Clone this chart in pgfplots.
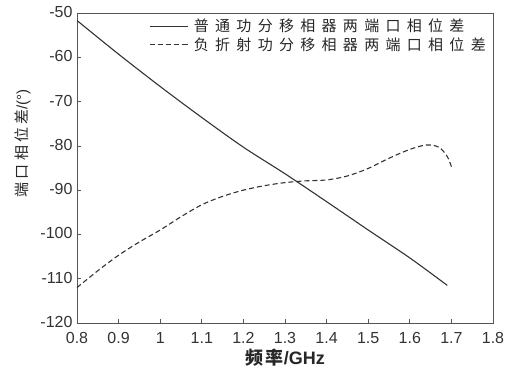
\documentclass[border=0pt]{standalone}
\usepackage{fontspec}
\setmainfont{Liberation Sans}
\newfontfamily\cjkleg[LetterSpace=42]{Noto Sans CJK SC}
\newfontfamily\cjkls[LetterSpace=22]{Noto Sans CJK SC}
\newfontfamily\cjkx[LetterSpace=15]{Noto Sans CJK SC}
\usepackage{pgfplots}
\pgfplotsset{compat=1.18}
\definecolor{ln}{HTML}{333333}
\definecolor{ax}{HTML}{555555}
\begin{document}
\begin{tikzpicture}
\begin{axis}[
  name=a,
  scale only axis,
  width=416pt, height=310pt,
  xmin=0.8, xmax=1.8, ymin=-120, ymax=-50,
  xtick={0.8,0.9,...,1.81},
  xticklabels={0.8,0.9,1,1.1,1.2,1.3,1.4,1.5,1.6,1.7,1.8},
  ytick={-120,-110,...,-50},
  tick align=inside,
  xtick pos=bottom, ytick pos=left,
  major tick length=4pt,
  axis line style={draw=ax, line width=0.9pt},
  tick style={draw=ax, line width=0.7pt},
  /pgf/number format/assume math mode=true,
  ticklabel style={font=\fontsize{16}{18}\selectfont, text=black!80},
  yticklabel style={xshift=-1pt, yshift=1pt},
  xticklabel style={yshift=-6pt},
  xlabel={\cjkx\bfseries 频率\rmfamily\bfseries /GHz},
  ylabel={\cjkls 端口相位差\rmfamily /(°)},
  xlabel style={font=\fontsize{18}{20}\selectfont, text=black!85, yshift=2pt},
  ylabel style={at={(ticklabel cs:0.58)}, font=\fontsize{15}{17}\selectfont, text=black!85, yshift=3pt},
  legend style={at={(1,1)}, anchor=north east, xshift=-4pt, yshift=-3pt, draw=none, fill=none, font=\cjkleg\fontsize{15}{22}\selectfont, text=black!85, inner sep=1pt, row sep=0pt,
    /tikz/every odd column/.append style={column sep=4pt}},
  legend cell align=left,
  legend image post style={xscale=2.2},
]
\addplot[ln, line width=1.1pt, smooth] coordinates {
(0.8,-51.7) (0.9,-59.3) (1.0,-66.6) (1.1,-73.6) (1.2,-80.3) (1.3,-86.3) (1.4,-92.6) (1.5,-99.0) (1.6,-105.3) (1.69,-111.5)
};
\addlegendentry{普通功分移相器两端口相位差}
\addplot[ln, line width=1.1pt, dash pattern=on 5pt off 3pt, smooth, tension=0.5] coordinates {
(0.8,-112) (0.85,-108.2) (0.9,-104.7) (0.95,-101.7) (1.0,-99.0) (1.05,-96.0) (1.1,-93.3) (1.15,-91.4) (1.2,-90.0) (1.25,-89.0) (1.3,-88.3) (1.35,-87.9) (1.4,-87.7) (1.45,-86.8) (1.5,-85.1) (1.55,-82.8) (1.6,-80.8) (1.64,-79.8) (1.67,-80.3) (1.69,-82.4) (1.70,-84.7)
};
\addlegendentry{负折射功分移相器两端口相位差}
\end{axis}
\path ([shift={(-77pt,-49pt)}]a.south west) rectangle ([shift={(22pt,13pt)}]a.north east);
\end{tikzpicture}
\end{document}
